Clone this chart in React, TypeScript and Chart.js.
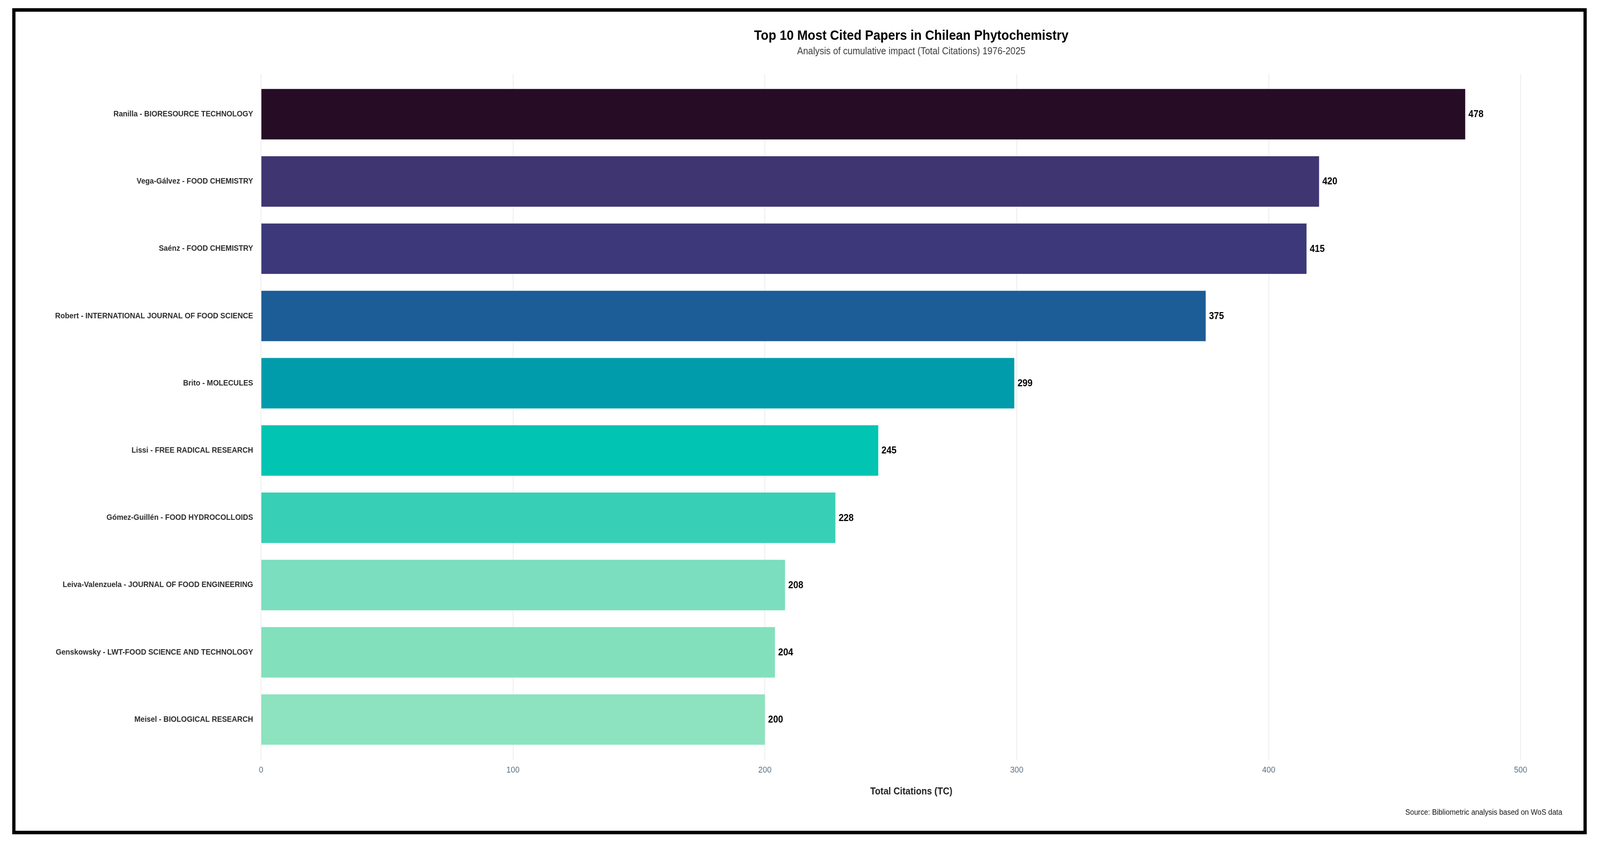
import React, { useEffect, useRef } from 'react';
import { Chart, registerables } from 'chart.js';

Chart.register(...registerables);

const FONT = '"Liberation Sans", Arial, Helvetica, sans-serif';
// the chart is laid out on a 4450x2166 canvas, then shown at the viewport size
const DESIGN_W = 4450;
const DESIGN_H = 2166;

// papers, top to bottom (author - journal)
const papers = [
  'Ranilla - BIORESOURCE TECHNOLOGY',
  'Vega-Gálvez - FOOD CHEMISTRY',
  'Saénz - FOOD CHEMISTRY',
  'Robert - INTERNATIONAL JOURNAL OF FOOD SCIENCE',
  'Brito - MOLECULES',
  'Lissi - FREE RADICAL RESEARCH',
  'Gómez-Guillén - FOOD HYDROCOLLOIDS',
  'Leiva-Valenzuela - JOURNAL OF FOOD ENGINEERING',
  'Genskowsky - LWT-FOOD SCIENCE AND TECHNOLOGY',
  'Meisel - BIOLOGICAL RESEARCH',
];
const citations = [478, 420, 415, 375, 299, 245, 228, 208, 204, 200];
const barColors = [
  '#260d25', '#3f3571', '#3c3879', '#1c5c97', '#019cab',
  '#01c4b3', '#37d0b6', '#7bdebe', '#83e0bd', '#8de2bf',
];
const rankPositions = papers.map((_, i) => i + 1);

const titleText = 'Top 10 Most Cited Papers in Chilean Phytochemistry';
const subtitleText = 'Analysis of cumulative impact (Total Citations) 1976-2025';
const xAxisTitle = 'Total Citations (TC)';
const sourceText = 'Source: Bibliometric analysis based on WoS data';

// titles, value labels, caption and the outer frame
const decorations = {
  id: 'decorations',
  afterDraw(chart: Chart) {
    const { ctx, chartArea } = chart;
    const cx = (chartArea.left + chartArea.right) / 2;
    ctx.save();
    ctx.textAlign = 'center';
    ctx.textBaseline = 'middle';
    ctx.fillStyle = '#000';
    ctx.font = `bold 35px ${FONT}`;
    ctx.fillText(titleText, cx, 92);
    ctx.fillStyle = '#3a3a3a';
    ctx.font = `25px ${FONT}`;
    ctx.fillText(subtitleText, cx, 132);

    const meta = chart.getDatasetMeta(0);
    ctx.textAlign = 'left';
    ctx.fillStyle = '#000';
    ctx.font = `bold 25px ${FONT}`;
    meta.data.forEach((bar: any, i: number) => {
      ctx.fillText(String(citations[i]), bar.x + 9, bar.y + 1);
    });

    ctx.textAlign = 'right';
    ctx.fillStyle = '#111';
    ctx.font = `20px ${FONT}`;
    ctx.fillText(sourceText, chartArea.right + 2, 2080);

    ctx.lineWidth = 9;
    ctx.strokeStyle = '#000';
    ctx.strokeRect(38.5, 25.5, 4370, 2106);
    ctx.restore();
  },
};

const CitationsChart: React.FC = () => {
  const canvasRef = useRef<HTMLCanvasElement>(null);

  useEffect(() => {
    if (!canvasRef.current) return;
    const chart = new Chart(canvasRef.current, {
      type: 'bar',
      data: {
        datasets: [{
          data: citations.map((v, i) => ({ x: v, y: rankPositions[i] })),
          backgroundColor: barColors,
          borderWidth: 0,
          barPercentage: 0.75,
          categoryPercentage: 1,
        }],
      },
      options: {
        indexAxis: 'y',
        animation: false,
        responsive: false,
        devicePixelRatio: 1,
        layout: { padding: { top: 189, right: 107, bottom: 124, left: 0 } },
        plugins: {
          legend: { display: false },
          tooltip: { enabled: false },
        },
        scales: {
          x: {
            type: 'linear',
            position: 'bottom',
            min: 0,
            max: 516.24,
            grid: { color: '#ebebeb', lineWidth: 2, drawTicks: false },
            border: { display: false },
            ticks: {
              stepSize: 100,
              includeBounds: false,
              padding: 13,
              color: '#5b7083',
              font: { family: FONT, size: 22 },
            },
            title: {
              display: true,
              text: xAxisTitle,
              color: '#222',
              font: { family: FONT, size: 25, weight: 'bold' },
              padding: { top: 14, bottom: 0 },
            },
          },
          y: {
            type: 'linear',
            min: 0.4,
            max: 10.6,
            offset: false,
            reverse: true,
            grid: { display: false },
            border: { display: false },
            afterBuildTicks: (axis: any) => {
              axis.ticks = rankPositions.map((v) => ({ value: v }));
            },
            afterFit: (axis: any) => {
              axis.width = 726;
            },
            ticks: {
              padding: 14,
              color: '#2b2b2b',
              font: { family: FONT, size: 20.5, weight: 'bold' },
              callback: (v: any) => papers[Number(v) - 1] ?? '',
            },
          },
        },
      },
      plugins: [decorations],
    });
    return () => chart.destroy();
  }, []);

  return (
    <canvas
      ref={canvasRef}
      width={DESIGN_W}
      height={DESIGN_H}
      style={{ display: 'block', width: '100vw', height: '100vh' }}
    />
  );
};

export default function App() {
  useEffect(() => {
    document.body.style.margin = '0';
    document.body.style.overflow = 'hidden';
    document.body.style.background = '#fff';
  }, []);
  return <CitationsChart />;
}
